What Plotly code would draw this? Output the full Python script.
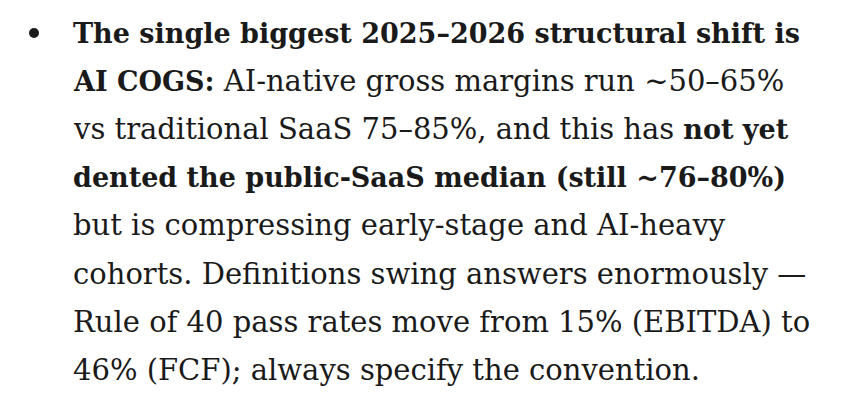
import plotly.graph_objects as go

# (text, bold) runs for each line of the bullet
lines = [
    [("The single biggest 2025–2026 structural shift is", True)],
    [("AI COGS:", True), (" AI-native gross margins run ~50–65%", False)],
    [("vs traditional SaaS 75–85%, and this has ", False), ("not yet", True)],
    [("dented the public-SaaS median (still ~76–80%)", True)],
    [("but is compressing early-stage and AI-heavy", False)],
    [("cohorts. Definitions swing answers enormously —", False)],
    [("Rule of 40 pass rates move from 15% (EBITDA) to", False)],
    [("46% (FCF); always specify the convention.", False)],
]

W, H = 846, 404
OFF = 8  # page body margin
text_x = 71
first_mid = 33
line_gap = 48.1
ink = "#1a1a1a"
font = dict(family="DejaVu Serif", size=29, color=ink)
bold_size = 27


def render(runs):
    out = ""
    for t, b in runs:
        if b:
            out += '<span style="font-size:%dpx"><b>%s</b></span>' % (bold_size, t)
        else:
            out += t
    return out


fig = go.Figure()

annotations = []
for i, runs in enumerate(lines):
    annotations.append(dict(
        x=text_x, y=first_mid + i * line_gap, xref="x", yref="y",
        text=render(runs), showarrow=False, xanchor="left", yanchor="middle",
        align="left", font=font
    ))

shapes = [dict(type="circle", xref="x", yref="y",
               x0=29, x1=39, y0=28, y1=38,
               fillcolor=ink, line=dict(width=0))]

fig.update_layout(
    width=W, height=H,
    margin=dict(l=0, r=0, t=0, b=0),
    paper_bgcolor="white", plot_bgcolor="white",
    showlegend=False,
    annotations=annotations,
    shapes=shapes,
    xaxis=dict(range=[OFF, W + OFF], visible=False, fixedrange=True),
    yaxis=dict(range=[H + OFF, OFF], visible=False, fixedrange=True),
)

fig.write_html("out.html")
